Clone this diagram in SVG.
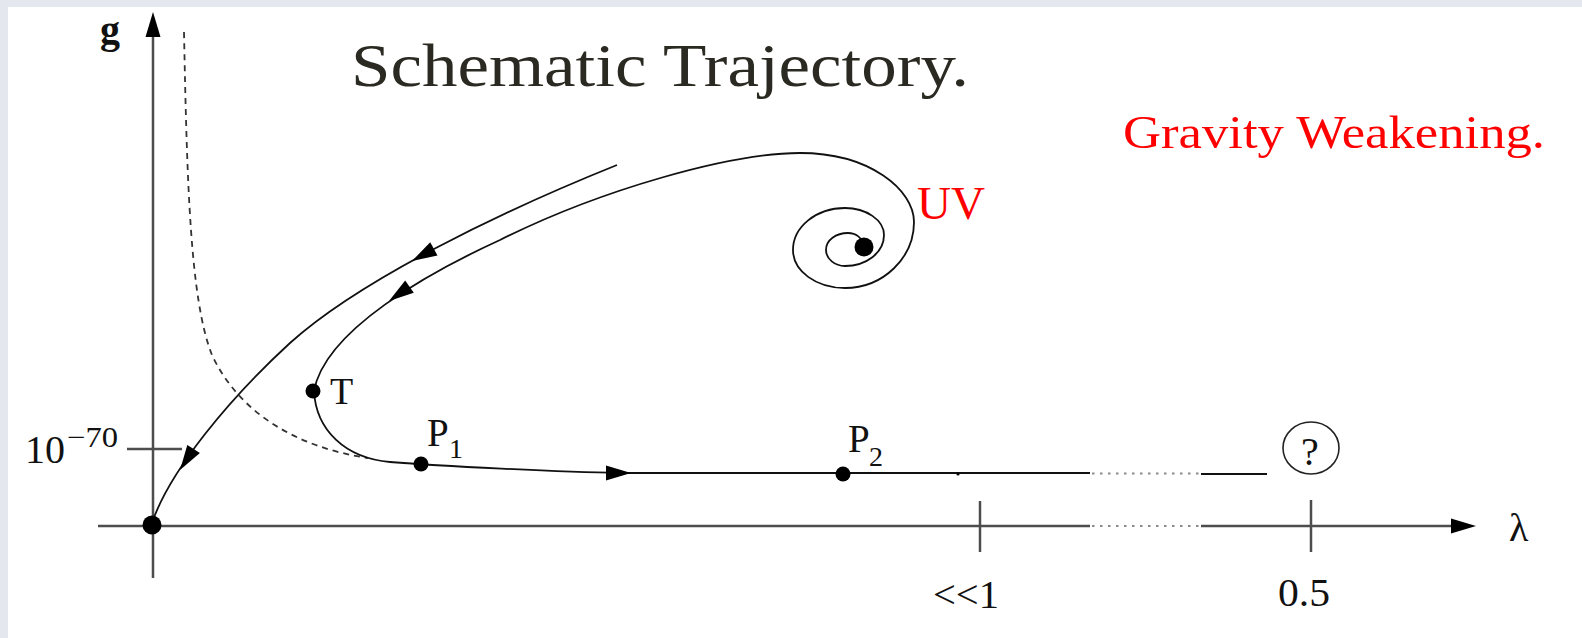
<svg xmlns="http://www.w3.org/2000/svg" width="1582" height="638" viewBox="0 0 1582 638">
<style>
.axis{stroke:#4d4d4d;stroke-width:2.5;fill:none}
.dots{stroke:#8a8a8a;stroke-width:2.2;stroke-dasharray:2.5 5.5;fill:none}
.traj{stroke:#111;stroke-width:1.8;fill:none}
.dash{stroke:#333;stroke-width:1.8;stroke-dasharray:6 5;fill:none}
.lbl{font-family:"Liberation Serif","Times New Roman",serif;fill:#111}
.pal{font-family:"Liberation Serif","Times New Roman",serif}
</style>
<defs>
<path id="ah" d="M0,0 L-25,-7.5 L-25,7.5 Z" fill="#000"/>
</defs>
<rect x="0" y="0" width="1582" height="638" fill="#e4e8ee"/>
<rect x="8" y="7" width="1574" height="631" fill="#ffffff"/>

<g id="title">
<text class="pal" x="351" y="86" font-size="62" fill="#2b2a22" textLength="618" lengthAdjust="spacingAndGlyphs">Schematic Trajectory.</text>
</g>
<g id="gravity-weakening">
<text class="pal" x="1123" y="148" font-size="46" fill="#ff0000" textLength="422" lengthAdjust="spacingAndGlyphs">Gravity Weakening.</text>
</g>

<g id="axes">
<line class="axis" x1="153" y1="578" x2="153" y2="30"/>
<use href="#ah" transform="translate(153,12) rotate(-90)"/>
<line class="axis" x1="98" y1="526" x2="1090" y2="526"/>
<line class="dots" x1="1092" y1="526" x2="1200" y2="526"/>
<line class="axis" x1="1201" y1="526" x2="1455" y2="526"/>
<use href="#ah" transform="translate(1476,526)"/>
<line class="axis" x1="127" y1="449" x2="182" y2="449"/>
<line class="axis" x1="980" y1="501" x2="980" y2="552"/>
<line class="axis" x1="1311" y1="500" x2="1311" y2="552"/>
<text class="lbl" x="100" y="43" font-size="40" font-weight="bold">g</text>
<text class="lbl" x="1509" y="541" font-size="40">λ</text>
<text class="lbl" x="25" y="463" font-size="40">10</text>
<text class="lbl" x="67" y="447" font-size="29" textLength="51" lengthAdjust="spacingAndGlyphs">−70</text>
<text class="lbl" x="933" y="608" font-size="40" textLength="66" lengthAdjust="spacingAndGlyphs">&lt;&lt;1</text>
<text class="lbl" x="1278" y="606" font-size="40" textLength="52" lengthAdjust="spacingAndGlyphs">0.5</text>
</g>

<g id="connectors">
<path class="dash" d="M184,32 C187,180 190,300 212,355 C240,415 300,448 368,458"/>
<path class="traj" d="M617,165 C500,212 360,280 290,343 C230,398 170,470 152,523"/>
<path class="traj" d="M864,246 C862,238 856,233 848,233 C836,233 826,240 826,250 C826,259 835,266 845,266 C866,266 884,253 884,235 C884,220 866,208 845,208 C816,208 793,227 793,250 C793,271 816,288 845,288 C883,288 914,258 914,222 C914,190 870,153 800,153 C730,153 600,190 500,240 C430,272 325,330 314,391 C316,430 345,458 390,462 C440,466 560,472 620,473 L1090,473"/>
<line class="dots" x1="1092" y1="473.5" x2="1200" y2="473.5"/>
<line class="traj" x1="1201" y1="474" x2="1267" y2="474" stroke="#4d4d4d" stroke-width="2.5"/>
<use href="#ah" transform="translate(412,261) rotate(151)"/>
<use href="#ah" transform="translate(389,301) rotate(145)"/>
<use href="#ah" transform="translate(180,470) rotate(123)"/>
<use href="#ah" transform="translate(631,473) rotate(0)"/>
<circle cx="958" cy="474" r="1.6" fill="#000"/>
</g>

<g id="origin"><circle cx="152" cy="525" r="9.5" fill="#000"/></g>
<g id="uv">
<circle cx="864" cy="247" r="9.5" fill="#000"/>
<text class="pal" x="917" y="219" font-size="46" fill="#ff0000" textLength="68" lengthAdjust="spacingAndGlyphs">UV</text>
</g>
<g id="T">
<circle cx="313" cy="391" r="7.5" fill="#000"/>
<text class="lbl" x="330" y="404" font-size="38">T</text>
</g>
<g id="P1">
<circle cx="421" cy="464" r="7.5" fill="#000"/>
<text class="lbl" x="427" y="446" font-size="39">P</text>
<text class="lbl" x="449" y="458" font-size="28">1</text>
</g>
<g id="P2">
<circle cx="843" cy="474" r="7.5" fill="#000"/>
<text class="lbl" x="848" y="452" font-size="39">P</text>
<text class="lbl" x="869" y="466" font-size="28">2</text>
</g>
<g id="unknown">
<ellipse cx="1311" cy="448" rx="28" ry="26" fill="none" stroke="#222" stroke-width="1.6"/>
<text class="lbl" x="1310" y="465" font-size="40" text-anchor="middle">?</text>
</g>
</svg>
